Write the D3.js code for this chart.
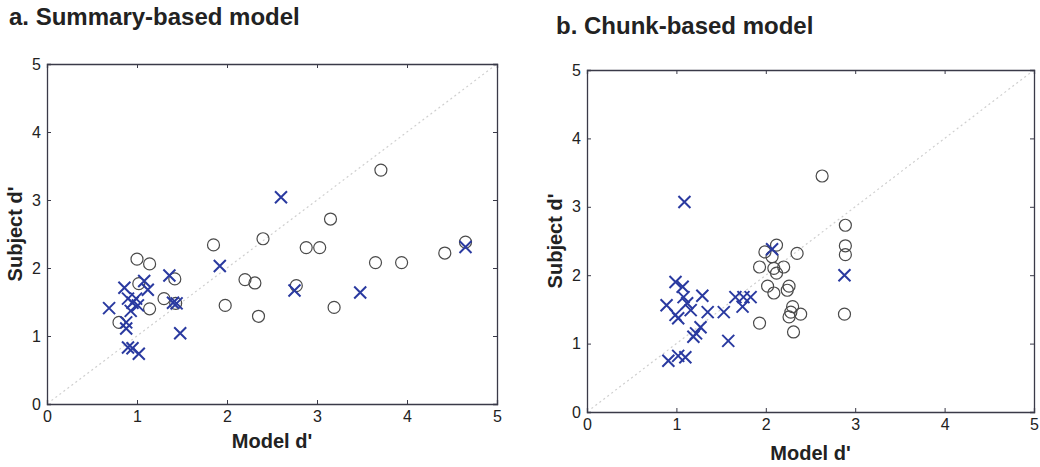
<!DOCTYPE html>
<html>
<head>
<meta charset="utf-8">
<script src="https://cdn.jsdelivr.net/npm/d3@7"></script>
<style>
  body { margin: 0; background: #fff; }
  svg { display: block; }
  text { font-family: "Liberation Sans", Arial, sans-serif; fill: #222; }
</style>
</head>
<body>
<div id="chart"></div>
<script>
// model d' vs subject d' , [x, y]
var summaryCircles = [
  [3.71, 3.44], [3.15, 2.72], [2.88, 2.30], [3.03, 2.30], [2.40, 2.43], [1.85, 2.34],
  [1.00, 2.13], [1.14, 2.06], [4.65, 2.38], [4.42, 2.22], [3.65, 2.08], [3.94, 2.08],
  [2.20, 1.83], [2.31, 1.78], [2.77, 1.74], [1.98, 1.45], [3.19, 1.42], [2.35, 1.29],
  [1.30, 1.55], [1.14, 1.40], [1.42, 1.84], [1.02, 1.77], [0.80, 1.20], [1.43, 1.48]
];
var summaryCrosses = [
  [0.69, 1.41], [0.86, 1.71], [0.90, 1.55], [0.95, 1.49], [0.99, 1.55], [1.01, 1.45],
  [0.93, 1.37], [1.08, 1.81], [1.12, 1.68], [0.88, 1.20], [0.88, 1.11], [0.90, 0.83],
  [0.95, 0.82], [1.02, 0.74], [1.36, 1.89], [1.40, 1.49], [1.44, 1.48], [1.48, 1.04],
  [1.92, 2.03], [2.60, 3.04], [2.75, 1.67], [3.48, 1.64], [4.65, 2.31]
];
var chunkCircles = [
  [2.63, 3.45], [2.89, 2.73], [2.89, 2.43], [2.89, 2.30], [2.88, 1.43], [2.12, 2.44],
  [1.99, 2.34], [2.07, 2.27], [2.35, 2.32], [1.93, 2.12], [2.09, 2.10], [2.20, 2.12],
  [2.12, 2.03], [2.02, 1.84], [2.09, 1.74], [2.26, 1.84], [2.24, 1.78], [2.30, 1.54],
  [2.28, 1.46], [2.39, 1.43], [2.26, 1.39], [1.93, 1.30], [2.31, 1.17]
];
var chunkCrosses = [
  [1.09, 3.07], [0.99, 1.90], [1.07, 1.83], [1.08, 1.68], [0.89, 1.56], [1.12, 1.59],
  [1.16, 1.49], [0.99, 1.42], [1.02, 1.37], [1.29, 1.70], [1.35, 1.46], [1.53, 1.46],
  [1.66, 1.68], [1.74, 1.54], [1.75, 1.68], [1.83, 1.68], [1.27, 1.24], [1.22, 1.15],
  [1.19, 1.10], [1.58, 1.04], [0.91, 0.75], [1.02, 0.82], [1.10, 0.80], [2.07, 2.38],
  [2.88, 2.00]
];
var tickValues = [0, 1, 2, 3, 4, 5];
var titles = ["a. Summary-based model", "b. Chunk-based model"];
var xLabel = "Model d'";
var yLabel = "Subject d'";

var svg = d3.select("#chart").append("svg")
  .attr("width", 1040)
  .attr("height", 467);

var panels = [
  {title: titles[0], circles: summaryCircles, crosses: summaryCrosses,
   left: 47, right: 497, top: 64, bottom: 404, titleX: 9, titleY: 25, xlabY: 448},
  {title: titles[1], circles: chunkCircles, crosses: chunkCrosses,
   left: 587, right: 1034, top: 70, bottom: 412, titleX: 556, titleY: 34, xlabY: 460}
];

panels.forEach(function(p) {
  var x = d3.scaleLinear().domain([0, 5]).range([p.left, p.right]);
  var y = d3.scaleLinear().domain([0, 5]).range([p.bottom, p.top]);
  var g = svg.append("g");

  svg.append("text")
    .attr("x", p.titleX)
    .attr("y", p.titleY)
    .style("font-size", "24px")
    .style("font-weight", "bold")
    .text(p.title);

  // identity line
  g.append("line")
    .attr("x1", x(0.05)).attr("y1", y(0.05))
    .attr("x2", x(5)).attr("y2", y(5))
    .attr("stroke", "#cfcfcf")
    .attr("stroke-width", 1.2)
    .attr("stroke-dasharray", "2,3");

  // frame with inward ticks (matlab style)
  var tl = 4;
  g.append("g").attr("transform", "translate(0," + p.bottom + ")")
    .call(d3.axisBottom(x).tickValues(tickValues).tickSize(-tl).tickPadding(7).tickFormat(d3.format("d")));
  g.append("g").attr("transform", "translate(" + p.left + ",0)")
    .call(d3.axisLeft(y).tickValues(tickValues).tickSize(-tl).tickPadding(6).tickFormat(d3.format("d")));
  g.append("g").attr("transform", "translate(0," + p.top + ")")
    .call(d3.axisTop(x).tickValues(tickValues).tickSize(-tl).tickFormat(""));
  g.append("g").attr("transform", "translate(" + p.right + ",0)")
    .call(d3.axisRight(y).tickValues(tickValues).tickSize(-tl).tickFormat(""));

  g.selectAll(".domain").attr("stroke", "#3a3a48").attr("stroke-width", 1.3);
  g.selectAll(".tick line").attr("stroke", "#3a3a48");
  g.selectAll(".tick text")
    .style("font-size", "16px")
    .style("font-family", "'Liberation Sans', Arial, sans-serif")
    .attr("fill", "#222");

  g.selectAll("circle.pt")
    .data(p.circles)
    .enter().append("circle")
    .attr("class", "pt")
    .attr("cx", function(d) { return x(d[0]); })
    .attr("cy", function(d) { return y(d[1]); })
    .attr("r", 6)
    .attr("fill", "none")
    .attr("stroke", "#4a4a4a")
    .attr("stroke-width", 1.2);

  var s = 6;
  g.selectAll("path.cross")
    .data(p.crosses)
    .enter().append("path")
    .attr("class", "cross")
    .attr("d", function(d) {
      var cx = x(d[0]), cy = y(d[1]);
      return "M" + (cx - s) + "," + (cy - s) + "L" + (cx + s) + "," + (cy + s) +
             "M" + (cx - s) + "," + (cy + s) + "L" + (cx + s) + "," + (cy - s);
    })
    .attr("stroke", "#2a3aa0")
    .attr("stroke-width", 2);

  svg.append("text")
    .attr("x", (p.left + p.right) / 2)
    .attr("y", p.xlabY)
    .attr("text-anchor", "middle")
    .style("font-size", "20px")
    .style("font-weight", "bold")
    .text(xLabel);

  svg.append("text")
    .attr("transform", "translate(" + (p.left - 25) + "," + ((p.top + p.bottom) / 2) + ") rotate(-90)")
    .attr("text-anchor", "middle")
    .style("font-size", "20px")
    .style("font-weight", "bold")
    .text(yLabel);
});
</script>
</body>
</html>
